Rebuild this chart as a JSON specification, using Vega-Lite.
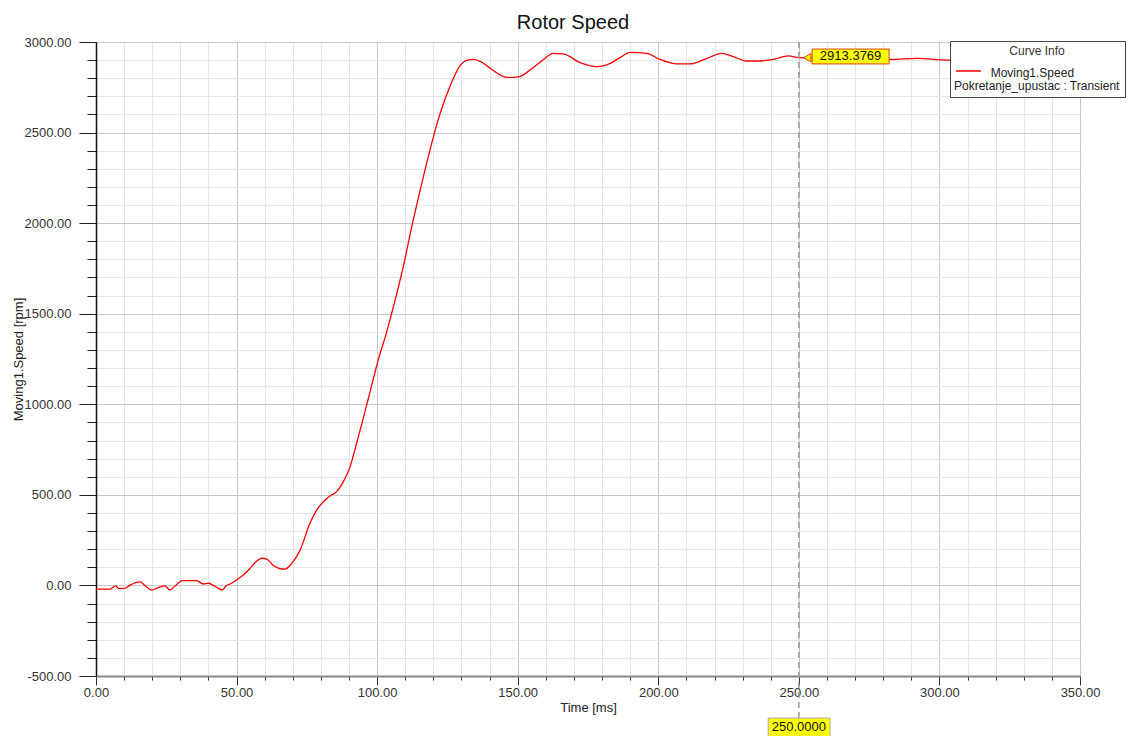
{
  "$schema": "https://vega.github.io/schema/vega-lite/v6.json",
  "width": 984,
  "height": 634,
  "autosize": {"type": "none"},
  "padding": {"left": 96, "top": 42, "right": 54, "bottom": 60},
  "background": "white",
  "title": {"text": "Rotor Speed", "font": "Liberation Sans", "fontSize": 20, "fontWeight": "normal", "color": "#111", "offset": 3, "dx": -15},
  "config": {
    "view": {"stroke": "#333", "strokeWidth": 1},
    "font": "Liberation Sans",
    "style": {"guide-label": {"lineHeight": 13}}
  },
  "datasets": {
    "speed": [
      {"t": 0, "v": -20, "series": "Moving1.Speed"},
      {"t": 5, "v": -20, "series": "Moving1.Speed"},
      {"t": 7, "v": -3, "series": "Moving1.Speed"},
      {"t": 8, "v": -16, "series": "Moving1.Speed"},
      {"t": 10.3, "v": -16, "series": "Moving1.Speed"},
      {"t": 12.1, "v": 2, "series": "Moving1.Speed"},
      {"t": 15.7, "v": 20, "series": "Moving1.Speed"},
      {"t": 16.8, "v": 8, "series": "Moving1.Speed"},
      {"t": 19.8, "v": -25, "series": "Moving1.Speed"},
      {"t": 21.6, "v": -16, "series": "Moving1.Speed"},
      {"t": 24.5, "v": -3, "series": "Moving1.Speed"},
      {"t": 26.3, "v": -25, "series": "Moving1.Speed"},
      {"t": 28.1, "v": -3, "series": "Moving1.Speed"},
      {"t": 30.8, "v": 26, "series": "Moving1.Speed"},
      {"t": 35.8, "v": 26, "series": "Moving1.Speed"},
      {"t": 38.2, "v": 8, "series": "Moving1.Speed"},
      {"t": 40, "v": 12, "series": "Moving1.Speed"},
      {"t": 41.7, "v": 0, "series": "Moving1.Speed"},
      {"t": 43.5, "v": -16, "series": "Moving1.Speed"},
      {"t": 45, "v": -25, "series": "Moving1.Speed"},
      {"t": 46.2, "v": -3, "series": "Moving1.Speed"},
      {"t": 47.7, "v": 8, "series": "Moving1.Speed"},
      {"t": 50, "v": 30, "series": "Moving1.Speed"},
      {"t": 52.4, "v": 57, "series": "Moving1.Speed"},
      {"t": 54.8, "v": 94, "series": "Moving1.Speed"},
      {"t": 57.2, "v": 135, "series": "Moving1.Speed"},
      {"t": 59, "v": 150, "series": "Moving1.Speed"},
      {"t": 60.8, "v": 145, "series": "Moving1.Speed"},
      {"t": 63.1, "v": 110, "series": "Moving1.Speed"},
      {"t": 65.5, "v": 92, "series": "Moving1.Speed"},
      {"t": 67.2, "v": 90, "series": "Moving1.Speed"},
      {"t": 69.6, "v": 122, "series": "Moving1.Speed"},
      {"t": 72.6, "v": 195, "series": "Moving1.Speed"},
      {"t": 76.1, "v": 343, "series": "Moving1.Speed"},
      {"t": 78.5, "v": 416, "series": "Moving1.Speed"},
      {"t": 80.3, "v": 453, "series": "Moving1.Speed"},
      {"t": 83.2, "v": 494, "series": "Moving1.Speed"},
      {"t": 85.6, "v": 518, "series": "Moving1.Speed"},
      {"t": 88, "v": 573, "series": "Moving1.Speed"},
      {"t": 90.4, "v": 656, "series": "Moving1.Speed"},
      {"t": 92.7, "v": 785, "series": "Moving1.Speed"},
      {"t": 95.1, "v": 925, "series": "Moving1.Speed"},
      {"t": 97.5, "v": 1070, "series": "Moving1.Speed"},
      {"t": 100.4, "v": 1245, "series": "Moving1.Speed"},
      {"t": 103.4, "v": 1400, "series": "Moving1.Speed"},
      {"t": 106.4, "v": 1576, "series": "Moving1.Speed"},
      {"t": 109.3, "v": 1760, "series": "Moving1.Speed"},
      {"t": 112.3, "v": 1980, "series": "Moving1.Speed"},
      {"t": 115.9, "v": 2220, "series": "Moving1.Speed"},
      {"t": 118.8, "v": 2404, "series": "Moving1.Speed"},
      {"t": 122.4, "v": 2606, "series": "Moving1.Speed"},
      {"t": 125.9, "v": 2755, "series": "Moving1.Speed"},
      {"t": 129.5, "v": 2870, "series": "Moving1.Speed"},
      {"t": 132.4, "v": 2901, "series": "Moving1.Speed"},
      {"t": 134.2, "v": 2904, "series": "Moving1.Speed"},
      {"t": 137, "v": 2890, "series": "Moving1.Speed"},
      {"t": 140.2, "v": 2855, "series": "Moving1.Speed"},
      {"t": 146.1, "v": 2805, "series": "Moving1.Speed"},
      {"t": 150.3, "v": 2808, "series": "Moving1.Speed"},
      {"t": 154.4, "v": 2845, "series": "Moving1.Speed"},
      {"t": 158.5, "v": 2895, "series": "Moving1.Speed"},
      {"t": 162.7, "v": 2937, "series": "Moving1.Speed"},
      {"t": 166.2, "v": 2934, "series": "Moving1.Speed"},
      {"t": 172.2, "v": 2886, "series": "Moving1.Speed"},
      {"t": 178.1, "v": 2864, "series": "Moving1.Speed"},
      {"t": 182.9, "v": 2882, "series": "Moving1.Speed"},
      {"t": 186.5, "v": 2915, "series": "Moving1.Speed"},
      {"t": 190, "v": 2943, "series": "Moving1.Speed"},
      {"t": 195.9, "v": 2937, "series": "Moving1.Speed"},
      {"t": 200.6, "v": 2904, "series": "Moving1.Speed"},
      {"t": 206.6, "v": 2879, "series": "Moving1.Speed"},
      {"t": 211.3, "v": 2879, "series": "Moving1.Speed"},
      {"t": 217.3, "v": 2910, "series": "Moving1.Speed"},
      {"t": 222.6, "v": 2937, "series": "Moving1.Speed"},
      {"t": 226.7, "v": 2919, "series": "Moving1.Speed"},
      {"t": 231.5, "v": 2895, "series": "Moving1.Speed"},
      {"t": 236.2, "v": 2895, "series": "Moving1.Speed"},
      {"t": 240.9, "v": 2904, "series": "Moving1.Speed"},
      {"t": 246.3, "v": 2923, "series": "Moving1.Speed"},
      {"t": 250, "v": 2913.38, "series": "Moving1.Speed"},
      {"t": 260, "v": 2908, "series": "Moving1.Speed"},
      {"t": 270, "v": 2905, "series": "Moving1.Speed"},
      {"t": 282.5, "v": 2904, "series": "Moving1.Speed"},
      {"t": 292, "v": 2910, "series": "Moving1.Speed"},
      {"t": 302.6, "v": 2900, "series": "Moving1.Speed"},
      {"t": 320, "v": 2904, "series": "Moving1.Speed"},
      {"t": 350, "v": 2905, "series": "Moving1.Speed"}
    ],
    "marker": [
      {"t": 250, "v": 2913.3769, "vlabel": "2913.3769", "tlabel": "250.0000"}
    ]
  },
  "layer": [
    {
      "data": {"name": "speed"},
      "mark": {"type": "line", "strokeWidth": 1.3, "interpolate": "monotone"},
      "encoding": {
        "x": {
          "field": "t", "type": "quantitative",
          "scale": {"domain": [0, 350], "nice": false, "zero": false},
          "axis": {
            "values": [0,10,20,30,40,50,60,70,80,90,100,110,120,130,140,150,160,170,180,190,200,210,220,230,240,250,260,270,280,290,300,310,320,330,340,350],
            "tickCount": 100,
            "grid": true,
            "gridColor": {"condition": {"test": "datum.value % 50 === 0", "value": "#c8c8c8"}, "value": "#e6e6e6"},
            "gridWidth": 1,
            "tickSize": {"condition": {"test": "datum.value % 50 === 0", "value": 9}, "value": 4},
            "tickColor": "#333",
            "domainColor": "#888",
            "domainWidth": 2,
            "labelExpr": "datum.value % 50 === 0 ? format(datum.value, '.2f') : ''",
            "labelFont": "Liberation Sans",
            "labelFontSize": 13,
            "labelColor": "#333",
            "labelPadding": 1,
            "labelFlush": false,
            "labelOverlap": false,
            "title": "Time [ms]",
            "titleFont": "Liberation Sans",
            "titleFontSize": 13,
            "titleFontWeight": "normal",
            "titleColor": "#222",
            "titleX": 492,
            "titleY": 31,
            "titleBaseline": "middle"
          }
        },
        "y": {
          "field": "v", "type": "quantitative",
          "scale": {"domain": [-500, 3000], "nice": false, "zero": false},
          "axis": {
            "values": [-500,-400,-300,-200,-100,0,100,200,300,400,500,600,700,800,900,1000,1100,1200,1300,1400,1500,1600,1700,1800,1900,2000,2100,2200,2300,2400,2500,2600,2700,2800,2900,3000],
            "tickCount": 100,
            "grid": true,
            "gridColor": {"condition": {"test": "datum.value % 500 === 0", "value": "#c8c8c8"}, "value": "#e6e6e6"},
            "gridWidth": 1,
            "tickSize": {"condition": {"test": "datum.value % 500 === 0", "value": 17}, "value": 9},
            "tickColor": "#222",
            "domainColor": "#111",
            "domainWidth": 1.5,
            "labelExpr": "datum.value % 500 === 0 ? (datum.value < 0 ? '-' + format(-datum.value, '.2f') : format(datum.value, '.2f')) : ''",
            "labelFont": "Liberation Sans",
            "labelFontSize": 13,
            "labelColor": "#333",
            "labelPadding": 8,
            "labelOverlap": false,
            "title": "Moving1.Speed [rpm]",
            "titleFont": "Liberation Sans",
            "titleFontSize": 13,
            "titleFontWeight": "normal",
            "titleColor": "#222",
            "titleX": -78,
            "titleY": 317,
            "titleBaseline": "middle",
            "titleAlign": "center"
          }
        },
        "color": {
          "field": "series", "type": "nominal",
          "scale": {"range": ["#ff0000"]},
          "legend": {
            "orient": "none",
            "legendX": 854,
            "legendY": -1,
            "title": "Curve Info",
            "titleFont": "Liberation Sans",
            "titleFontSize": 12,
            "titleFontWeight": "normal",
            "titleColor": "#333",
            "titleAnchor": "middle",
            "titleAlign": "center",
            "titlePadding": 1,
            "fillColor": "white",
            "strokeColor": "#444",
            "padding": 5,
            "symbolType": "M -1 -0.12 L 1 -0.12",
            "symbolSize": 625,
            "symbolStrokeWidth": 1.5,
            "labelFont": "Liberation Sans",
            "labelFontSize": 12,
            "labelColor": "#222",
            "labelLimit": 400,
            "labelOffset": -28,
            "labelExpr": "['\u200b\u00a0\u00a0\u00a0\u00a0\u00a0\u00a0\u00a0\u00a0\u00a0\u00a0\u00a0Moving1.Speed', 'Pokretanje_upustac : Transient']"
          }
        }
      }
    },
    {
      "data": {"name": "marker"},
      "mark": {"type": "rule", "color": "#999", "strokeWidth": 1.5, "strokeDash": [6, 4]},
      "encoding": {
        "x": {"field": "t", "type": "quantitative"},
        "y": {"datum": 3000, "type": "quantitative"},
        "y2": {"datum": -732}
      }
    },
    {
      "data": {"name": "marker"},
      "mark": {"type": "point", "shape": "triangle-left", "filled": true, "fill": "#ffff00", "stroke": "#e04000", "strokeWidth": 1, "size": 70, "opacity": 1},
      "encoding": {
        "x": {"datum": 253},
        "y": {"field": "v", "type": "quantitative"}
      }
    },
    {
      "data": {"name": "marker"},
      "mark": {"type": "rect", "fill": "#ffff00", "stroke": "#e04000", "strokeWidth": 1},
      "encoding": {
        "x": {"datum": 254.7},
        "x2": {"datum": 282.1},
        "y": {"datum": 2961},
        "y2": {"datum": 2879}
      }
    },
    {
      "data": {"name": "marker"},
      "mark": {"type": "text", "font": "Liberation Sans", "fontSize": 13, "color": "#111", "align": "center", "baseline": "middle"},
      "encoding": {
        "x": {"datum": 268.4},
        "y": {"datum": 2920},
        "text": {"field": "vlabel"}
      }
    },
    {
      "data": {"name": "marker"},
      "mark": {"type": "rect", "fill": "#ffff00", "stroke": "#aaa", "strokeWidth": 1},
      "encoding": {
        "x": {"datum": 239.1},
        "x2": {"datum": 261.1},
        "y": {"datum": -732},
        "y2": {"datum": -835}
      }
    },
    {
      "data": {"name": "marker"},
      "mark": {"type": "text", "font": "Liberation Sans", "fontSize": 13, "color": "#111", "align": "center", "baseline": "middle"},
      "encoding": {
        "x": {"field": "t", "type": "quantitative"},
        "y": {"datum": -782},
        "text": {"field": "tlabel"}
      }
    }
  ]
}
